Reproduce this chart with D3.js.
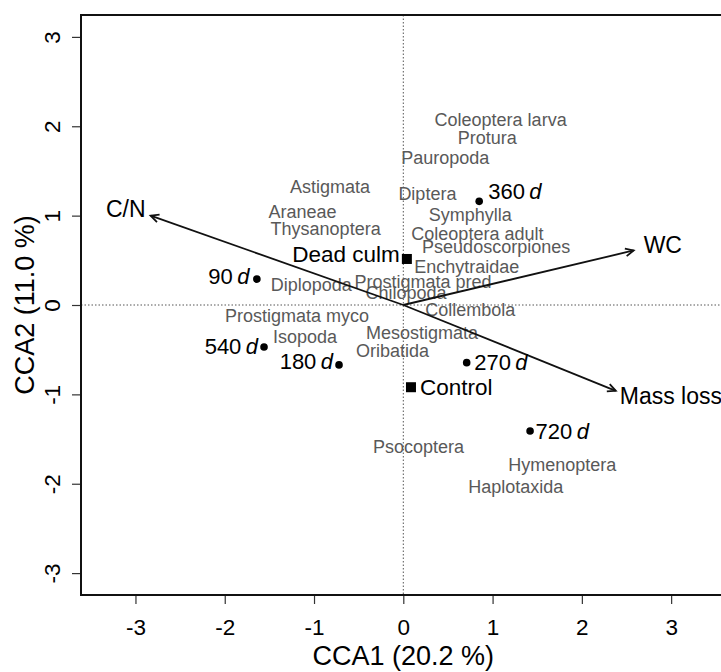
<!DOCTYPE html>
<html>
<head>
<meta charset="utf-8">
<script src="https://cdn.jsdelivr.net/npm/d3@7/dist/d3.min.js"></script>
<style>
  html, body { margin: 0; padding: 0; background: #fff; }
  svg { display: block; font-family: "Liberation Sans", Arial, Helvetica, sans-serif; }
</style>
</head>
<body>
<svg id="chart" width="721" height="672"></svg>
<script>
// CCA ordination: sampling dates, litter treatments, environmental vectors and taxa scores

// Sampling dates (days) and their site scores
const siteDays = ["90", "180", "270", "360", "540", "720"];
const siteCCA1 = [-1.64, -0.72, 0.71, 0.85, -1.56, 1.42];
const siteCCA2 = [0.29, -0.67, -0.645, 1.16, -0.47, -1.41];

// Treatment centroids
const treatments = ["Dead culm", "Control"];
const treatCCA1 = [0.04, 0.086];
const treatCCA2 = [0.515, -0.92];

// Environmental variable biplot arrows
const envVars = ["C/N", "WC", "Mass loss"];
const envCCA1 = [-2.83, 2.58, 2.38];
const envCCA2 = [1.00, 0.61, -0.96];

// Taxa scores
const taxa = [
  "Coleoptera larva", "Protura", "Pauropoda", "Diptera", "Symphylla",
  "Coleoptera adult", "Pseudoscorpiones", "Enchytraidae", "Prostigmata pred",
  "Chilopoda", "Collembola", "Mesostigmata", "Oribatida", "Diplopoda",
  "Prostigmata myco", "Isopoda", "Astigmata", "Araneae", "Thysanoptera",
  "Psocoptera", "Hymenoptera", "Haplotaxida"
];
const taxaCCA1 = [1.09, 0.94, 0.47, 0.27, 0.75, 0.83, 1.04, 0.71, 0.22, 0.03, 0.75,
  0.21, -0.12, -1.03, -1.19, -1.10, -0.82, -1.13, -0.87, 0.17, 1.78, 1.26];
const taxaCCA2 = [2.08, 1.87, 1.65, 1.25, 1.01, 0.80, 0.65, 0.43, 0.26, 0.14, -0.05,
  -0.31, -0.51, 0.23, -0.12, -0.35, 1.33, 1.05, 0.86, -1.58, -1.78, -2.03];

// Axis ticks and titles
const xTicks = [-3, -2, -1, 0, 1, 2, 3];
const yTicks = [-3, -2, -1, 0, 1, 2, 3];
const xTitle = "CCA1 (20.2 %)";
const yTitle = "CCA2 (11.0 %)";

// ---- layout ----
const svg = d3.select("#chart");
const plot = { left: 81, top: 15, bottom: 595, right: 725.6 };

const x = d3.scaleLinear().domain([-3.61, 3.61]).range([plot.left, plot.right]);
const y = d3.scaleLinear().domain([-3.245, 3.245]).range([plot.bottom, plot.top]);

svg.append("rect").attr("width", 721).attr("height", 672).attr("fill", "#fff");

// zero reference lines
svg.append("line")
  .attr("x1", x(0)).attr("x2", x(0)).attr("y1", plot.top).attr("y2", plot.bottom)
  .attr("stroke", "#555").attr("stroke-width", 1).attr("stroke-dasharray", "1.5,2");
svg.append("line")
  .attr("x1", plot.left).attr("x2", plot.right).attr("y1", y(0)).attr("y2", y(0))
  .attr("stroke", "#555").attr("stroke-width", 1).attr("stroke-dasharray", "1.5,2");

// axes
const fmt = d => d3.format("d")(d).replace("\u2212", "-");
const xAxis = svg.append("g")
  .attr("transform", `translate(0,${plot.bottom})`)
  .call(d3.axisBottom(x).tickValues(xTicks).tickSize(9).tickPadding(15).tickFormat(fmt));
const yAxis = svg.append("g")
  .attr("transform", `translate(${plot.left},0)`)
  .call(d3.axisLeft(y).tickValues(yTicks).tickSize(9).tickFormat(fmt));

[xAxis, yAxis].forEach(g => {
  g.select(".domain").remove();
  g.selectAll(".tick line").attr("stroke", "#333").attr("stroke-width", 1.2);
  g.selectAll(".tick text")
    .attr("fill", "#000")
    .attr("font-size", 22.5)
    .attr("font-family", "Liberation Sans, Arial, sans-serif");
});
yAxis.selectAll(".tick text")
  .attr("x", null).attr("y", null).attr("dy", null)
  .attr("text-anchor", "middle")
  .attr("transform", "translate(-21,0) rotate(-90)");

// plot frame
svg.append("rect")
  .attr("x", plot.left).attr("y", plot.top)
  .attr("width", plot.right - plot.left).attr("height", plot.bottom - plot.top)
  .attr("fill", "none").attr("stroke", "#111").attr("stroke-width", 2);

// axis titles
svg.append("text")
  .attr("x", x(0)).attr("y", 665)
  .attr("text-anchor", "middle").attr("font-size", 27).attr("fill", "#000")
  .text(xTitle);
svg.append("text")
  .attr("transform", `translate(34,${y(0)}) rotate(-90)`)
  .attr("text-anchor", "middle").attr("font-size", 27).attr("fill", "#000")
  .text(yTitle);

// taxa labels
const taxaData = taxa.map((t, i) => ({ name: t, cx: taxaCCA1[i], cy: taxaCCA2[i] }));
svg.append("g").selectAll("text").data(taxaData).join("text")
  .attr("x", d => x(d.cx)).attr("y", d => y(d.cy))
  .attr("dy", "0.36em")
  .attr("text-anchor", "middle")
  .attr("font-size", 18)
  .attr("fill", "#595959")
  .text(d => d.name);

// environmental arrows
const envData = envVars.map((v, i) => ({ name: v, ex: envCCA1[i], ey: envCCA2[i] }));
const envLabelLayout = {
  "C/N": { anchor: "end", dx: -5, dy: -6.5 },
  "WC": { anchor: "start", dx: 10, dy: -5.5 },
  "Mass loss": { anchor: "start", dx: 4, dy: 4.5 }
};
const headLen = 9, headAng = Math.PI / 7;
const arrows = svg.append("g");
envData.forEach(d => {
  const x0 = x(0), y0 = y(0), x1 = x(d.ex), y1 = y(d.ey);
  const a = Math.atan2(y1 - y0, x1 - x0);
  arrows.append("line")
    .attr("x1", x0).attr("y1", y0).attr("x2", x1).attr("y2", y1)
    .attr("stroke", "#111").attr("stroke-width", 1.8);
  const p = d3.path();
  p.moveTo(x1 - headLen * Math.cos(a - headAng), y1 - headLen * Math.sin(a - headAng));
  p.lineTo(x1, y1);
  p.lineTo(x1 - headLen * Math.cos(a + headAng), y1 - headLen * Math.sin(a + headAng));
  arrows.append("path").attr("d", p.toString())
    .attr("fill", "none").attr("stroke", "#111").attr("stroke-width", 1.8);
  const L = envLabelLayout[d.name];
  arrows.append("text")
    .attr("x", x1 + L.dx).attr("y", y1 + L.dy)
    .attr("dy", "0.36em")
    .attr("text-anchor", L.anchor)
    .attr("font-size", 23).attr("fill", "#000")
    .text(d.name);
});

// treatment centroids
const treatData = treatments.map((t, i) => ({ name: t, cx: treatCCA1[i], cy: treatCCA2[i] }));
const treatLayout = {
  "Dead culm": { anchor: "end", dx: -7, dy: -5 },
  "Control": { anchor: "start", dx: 9, dy: -0.5 }
};
const tg = svg.append("g");
tg.selectAll("rect").data(treatData).join("rect")
  .attr("x", d => x(d.cx) - 5).attr("y", d => y(d.cy) - 5)
  .attr("width", 10).attr("height", 10).attr("fill", "#000");
tg.selectAll("text").data(treatData).join("text")
  .attr("x", d => x(d.cx) + treatLayout[d.name].dx)
  .attr("y", d => y(d.cy) + treatLayout[d.name].dy)
  .attr("dy", "0.36em")
  .attr("text-anchor", d => treatLayout[d.name].anchor)
  .attr("font-size", 22.5).attr("fill", "#000")
  .text(d => d.name);

// sampling dates
const siteData = siteDays.map((s, i) => ({ name: s, cx: siteCCA1[i], cy: siteCCA2[i] }));
const siteLayout = {
  "90": { anchor: "end", dx: -7.5, dy: -3.5 },
  "180": { anchor: "end", dx: -6, dy: -3.5 },
  "270": { anchor: "start", dx: 7.5, dy: -1 },
  "360": { anchor: "start", dx: 9, dy: -10.5 },
  "540": { anchor: "end", dx: -6, dy: -1 },
  "720": { anchor: "start", dx: 5.5, dy: 0 }
};
const sg = svg.append("g");
sg.selectAll("circle").data(siteData).join("circle")
  .attr("cx", d => x(d.cx)).attr("cy", d => y(d.cy))
  .attr("r", 3.8).attr("fill", "#000");
const st = sg.selectAll("text").data(siteData).join("text")
  .attr("x", d => x(d.cx) + siteLayout[d.name].dx)
  .attr("y", d => y(d.cy) + siteLayout[d.name].dy)
  .attr("dy", "0.36em")
  .attr("text-anchor", d => siteLayout[d.name].anchor)
  .attr("font-size", 22).attr("fill", "#000");
st.append("tspan").text(d => d.name + "\u2009");
st.append("tspan").attr("font-style", "italic").text("d");
</script>
</body>
</html>
